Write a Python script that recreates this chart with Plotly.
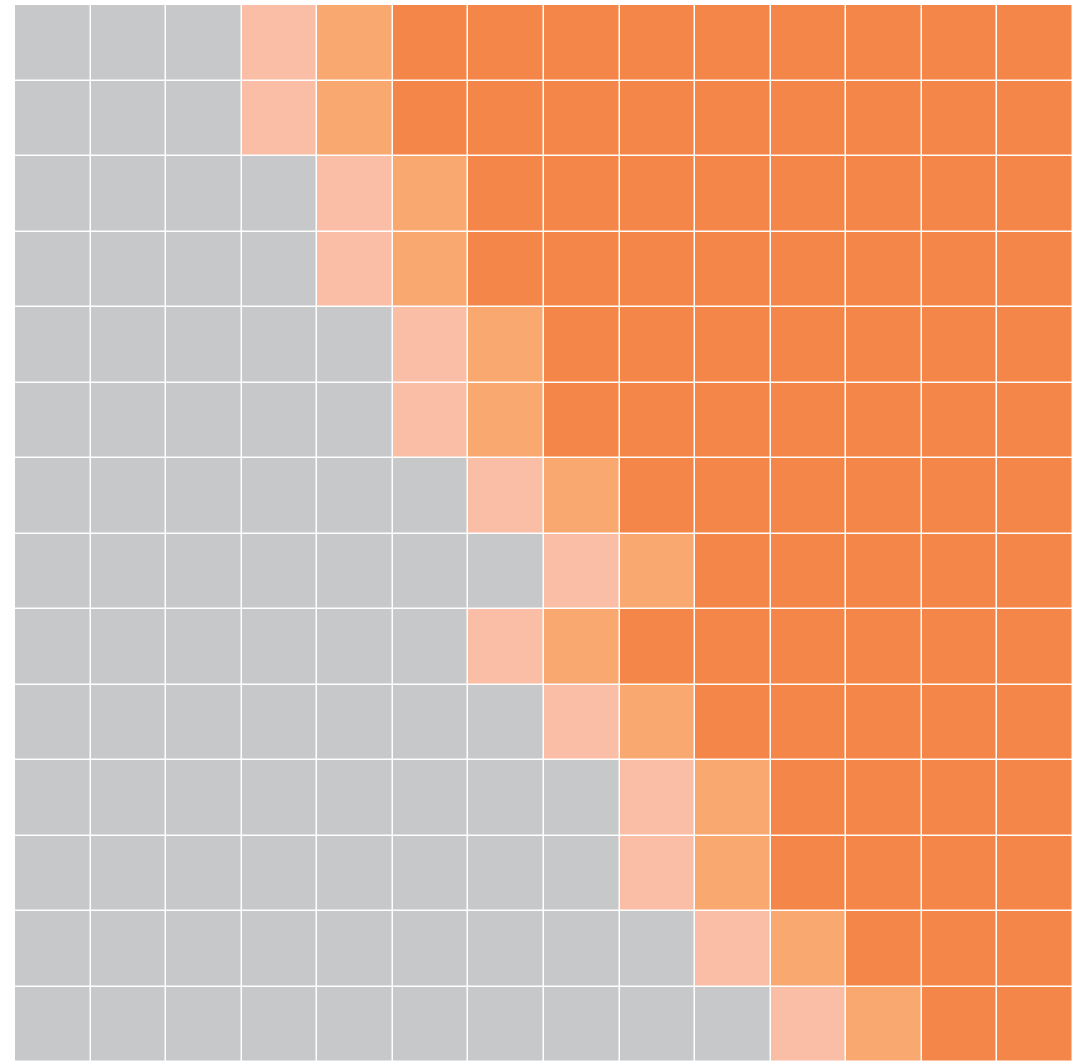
import plotly.graph_objects as go

# Category codes: 0 = gray, 1 = light pink, 2 = light orange, 3 = orange
rows = [f"r{i}" for i in range(14)]
cols = [f"c{j}" for j in range(14)]
grid = [
    [0, 0, 0, 1, 2, 3, 3, 3, 3, 3, 3, 3, 3, 3],
    [0, 0, 0, 1, 2, 3, 3, 3, 3, 3, 3, 3, 3, 3],
    [0, 0, 0, 0, 1, 2, 3, 3, 3, 3, 3, 3, 3, 3],
    [0, 0, 0, 0, 1, 2, 3, 3, 3, 3, 3, 3, 3, 3],
    [0, 0, 0, 0, 0, 1, 2, 3, 3, 3, 3, 3, 3, 3],
    [0, 0, 0, 0, 0, 1, 2, 3, 3, 3, 3, 3, 3, 3],
    [0, 0, 0, 0, 0, 0, 1, 2, 3, 3, 3, 3, 3, 3],
    [0, 0, 0, 0, 0, 0, 0, 1, 2, 3, 3, 3, 3, 3],
    [0, 0, 0, 0, 0, 0, 1, 2, 3, 3, 3, 3, 3, 3],
    [0, 0, 0, 0, 0, 0, 0, 1, 2, 3, 3, 3, 3, 3],
    [0, 0, 0, 0, 0, 0, 0, 0, 1, 2, 3, 3, 3, 3],
    [0, 0, 0, 0, 0, 0, 0, 0, 1, 2, 3, 3, 3, 3],
    [0, 0, 0, 0, 0, 0, 0, 0, 0, 1, 2, 3, 3, 3],
    [0, 0, 0, 0, 0, 0, 0, 0, 0, 0, 1, 2, 3, 3],
]
palette = ["#C7C8CA", "#FABEA7", "#F9A870", "#F58649"]

colorscale = []
n = len(palette)
for i, c in enumerate(palette):
    colorscale.append([i / n, c])
    colorscale.append([(i + 1) / n, c])

fig = go.Figure(go.Heatmap(
    z=grid, x=cols, y=rows,
    zmin=-0.5, zmax=n - 0.5,
    colorscale=colorscale, showscale=False,
    xgap=1.5, ygap=1.5, hoverinfo="skip",
))
fig.update_layout(
    width=1087, height=1064,
    margin=dict(l=15, r=14, t=5, b=2),
    paper_bgcolor="white", plot_bgcolor="white",
    xaxis=dict(visible=False, showgrid=False, zeroline=False),
    yaxis=dict(visible=False, showgrid=False, zeroline=False, autorange="reversed"),
)
fig.write_html(
    "out.html",
    config={"displayModeBar": False},
    post_script="document.body.style.margin='0';document.body.style.overflow='hidden';",
)
